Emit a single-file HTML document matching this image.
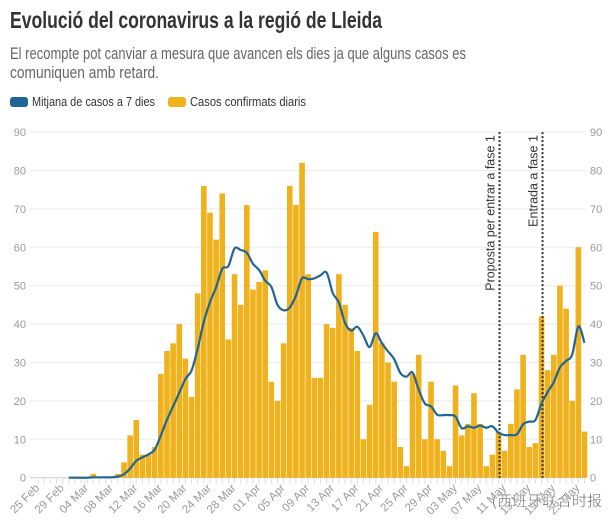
<!DOCTYPE html>
<html><head><meta charset="utf-8">
<style>
html,body{margin:0;padding:0;background:#fff;}
svg{display:block;font-family:"Liberation Sans","Noto Sans CJK SC",sans-serif;}
</style></head>
<body>
<svg id="chart" width="612" height="529" viewBox="0 0 612 529" xmlns="http://www.w3.org/2000/svg">
  <text x="10" y="28" font-size="23" font-weight="bold" fill="#333" textLength="372" lengthAdjust="spacingAndGlyphs">Evolució del coronavirus a la regió de Lleida</text>
  <text x="10" y="59" font-size="17" fill="#666" textLength="456" lengthAdjust="spacingAndGlyphs">El recompte pot canviar a mesura que avancen els dies ja que alguns casos es</text>
  <text x="10" y="78" font-size="17" fill="#666" textLength="149" lengthAdjust="spacingAndGlyphs">comuniquen amb retard.</text>
  <g>
    <rect x="10" y="97" width="18" height="10" rx="3" fill="#1f6694"/>
    <text x="32" y="106" font-size="13" fill="#333" textLength="123" lengthAdjust="spacingAndGlyphs">Mitjana de casos a 7 dies</text>
    <rect x="168" y="97" width="18" height="10" rx="3" fill="#efb11c"/>
    <text x="190" y="106" font-size="13" fill="#333" textLength="116" lengthAdjust="spacingAndGlyphs">Casos confirmats diaris</text>
  </g>
  <g id="grid"></g>
  <g id="bars"></g>
  <g id="xaxis"></g>
  <g id="annot"></g>
  <path id="avgline" fill="none" stroke="#1f6694" stroke-width="2.2"/>
  <text x="492" y="506" font-size="15" fill="#444" stroke="#fff" stroke-width="0.5">(西班牙联合时报</text>
</svg>
<script>
const startLabels = ["25 Feb","29 Feb","04 Mar","08 Mar","12 Mar","16 Mar","20 Mar","24 Mar","28 Mar","01 Apr","05 Apr","09 Apr","13 Apr","17 Apr","21 Apr","25 Apr","29 Apr","03 May","07 May","11 May","15 May","19 May","23 May"];
const yTicks = [0,10,20,30,40,50,60,70,80,90];
// daily cases, starting 05 Mar
const dailyCases = [1,0,0,0,1,4,11,15,6,6,8,27,33,35,40,31,21,48,76,69,62,74,36,53,45,71,49,51,54,25,20,35,76,71,82,53,26,26,40,39,53,45,39,33,10,19,64,35,30,25,8,3,27,32,10,25,10,7,3,24,11,14,22,14,3,6,12,7,14,23,32,8,9,42,28,32,50,44,20,60,12];
// 7-day average, starting 01 Mar
const avgCases = [0,0,0,0,0.1,0.1,0.1,0.1,0.3,0.9,2.4,4.4,5.3,6.1,7.3,11,15.1,18.6,22.1,25.7,27.9,33.6,40.6,45.7,49.6,54.4,55.1,59.7,59.3,58.6,55.7,54.1,51.3,49.7,45,43.6,44.3,47.4,51.9,51.7,51.9,52.7,53.4,48.1,45.6,40.3,38.3,39.3,37,34,37.6,35,32.9,30.9,27.3,26.3,27.4,22.9,19.3,18.6,16.4,16.3,16.3,15.9,12.9,13.4,13,13.6,13,13.4,11.7,11.1,11.1,11.3,13.9,14.6,15,19.3,22.3,24.9,28.7,30.4,32.1,39.4,35.1];
const annotLabels = ["Proposta per entrar a fase 1","Entrada a fase 1"];
const annotDays = [66,73];

const NS="http://www.w3.org/2000/svg";
const X0=93.3, STEP=6.14, Y0=477.7, YPX=3.84;
const xs=k=>X0+k*STEP;
const ys=v=>Y0-v*YPX;
function mk(tag,attrs,parent){const e=document.createElementNS(NS,tag);for(const a in attrs)e.setAttribute(a,attrs[a]);parent.appendChild(e);return e;}
const grid=document.getElementById('grid');
yTicks.forEach(t=>{
  const l=mk('line',{x1:30,x2:586,y1:ys(t),y2:ys(t),stroke:t===0?'#ccc':'#ebebeb','stroke-width':1},grid);
  
  
  const a=mk('text',{x:26,y:ys(t)+4,'font-size':11,fill:'#999','text-anchor':'end'},grid);a.textContent=t;
  
  
  const b=mk('text',{x:590,y:ys(t)+4,'font-size':11,fill:'#999'},grid);b.textContent=t;
  
  
});
const bars=document.getElementById('bars');
dailyCases.forEach((v,k)=>{
  const r=mk('rect',{x:xs(k)-2.8,width:5.6,y:ys(v),height:v*YPX,fill:'#efb11c'},bars);
  
  
});
const xa=document.getElementById('xaxis');
for(let k=-9;k<=80;k++){
  const t=mk('line',{x1:xs(k),x2:xs(k),y1:Y0+1,y2:Y0+6,stroke:'#ddd','stroke-width':1},xa);
  
  
}
startLabels.forEach((s,j)=>{
  const k=-9+4*j, x=xs(k)+2, y=Y0+11;
  const t=mk('text',{x:x,y:y,'font-size':11.5,fill:'#999','text-anchor':'end',transform:`rotate(-45 ${x} ${y})`},xa);
  t.textContent=s;
  
  
});
const an=document.getElementById('annot');
annotDays.forEach((d,i)=>{
  const x=xs(d)+1;
  const l=mk('line',{x1:x,x2:x,y1:ys(90),y2:Y0,stroke:'#333','stroke-width':2,'stroke-dasharray':'2,2'},an);
  
  
  const tx=x-5, ty=ys(90)+3;
  const t=mk('text',{x:tx,y:ty,'font-size':12.5,fill:'#333','text-anchor':'end',transform:`rotate(-90 ${tx} ${ty})`},an);
  t.textContent=annotLabels[i];
  
  
});
// smooth line
const pts=avgCases.map((v,i)=>[xs(i-4),ys(v)]);
let d=`M${pts[0][0]},${pts[0][1]}`;
for(let i=0;i<pts.length-1;i++){
  const p0=pts[Math.max(0,i-1)],p1=pts[i],p2=pts[i+1],p3=pts[Math.min(pts.length-1,i+2)];
  const c1=[p1[0]+(p2[0]-p0[0])/6,p1[1]+(p2[1]-p0[1])/6];
  const c2=[p2[0]-(p3[0]-p1[0])/6,p2[1]-(p3[1]-p1[1])/6];
  d+=` C${c1[0]},${c1[1]} ${c2[0]},${c2[1]} ${p2[0]},${p2[1]}`;
}
document.getElementById('avgline').setAttribute('d',d);
</script>
</body></html>
